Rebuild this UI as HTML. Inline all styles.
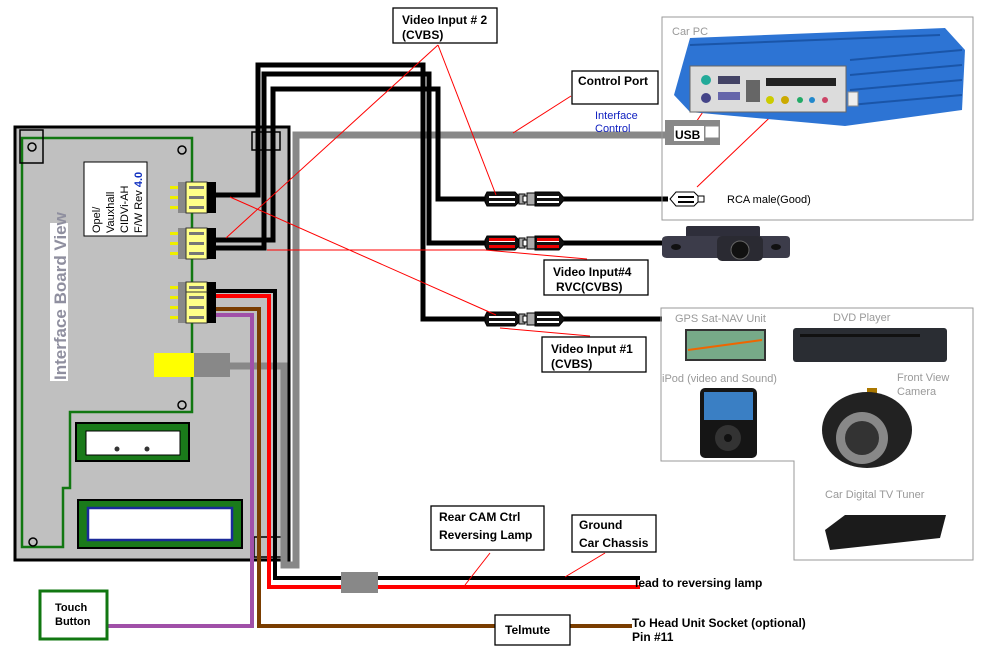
<!DOCTYPE html>
<html><head><meta charset="utf-8"><style>
html,body{margin:0;padding:0;background:#fff;}
svg{display:block;font-family:"Liberation Sans",sans-serif;}
.b{font-weight:bold;font-size:12px;fill:#000;}
.g{font-size:11px;fill:#999;}
</style></head><body>
<svg width="992" height="648" viewBox="0 0 992 648" xmlns="http://www.w3.org/2000/svg">
<defs>
<g id="rcaf">
 <path d="M-16,-7 L12,-7 L16,-3 L16,3 L12,7 L-16,7 L-18,3 L-18,-3 Z" fill="#111" stroke="#000"/>
 <rect x="-14" y="-3" width="26" height="2" fill="#fff"/>
 <rect x="-14" y="2" width="26" height="2" fill="#fff"/>
 <rect x="16" y="-5" width="6" height="10" fill="#aaa" stroke="#000"/>
</g>
<g id="rcam">
 <rect x="-4" y="-3" width="4" height="6" fill="#fff" stroke="#000"/>
 <rect x="0" y="-6" width="8" height="12" fill="#aaa" stroke="#000"/>
 <path d="M8,-7 L32,-7 L38,0 L32,7 L8,7 Z" fill="#111" stroke="#000"/>
 <rect x="10" y="-3" width="22" height="2" fill="#fff"/>
 <rect x="10" y="2" width="22" height="2" fill="#fff"/>
</g>
<g id="conn">
 <rect x="170" y="0" width="8" height="3" fill="#ee0"/>
 <rect x="170" y="10" width="8" height="3" fill="#ee0"/>
 <rect x="170" y="20" width="8" height="3" fill="#ee0"/>
 <rect x="178" y="-4" width="8" height="31" fill="#888"/>
 <rect x="186" y="-4" width="21" height="31" fill="#ff8" stroke="#333"/>
 <rect x="189" y="0" width="15" height="3" fill="#777"/>
 <rect x="189" y="10" width="15" height="3" fill="#777"/>
 <rect x="189" y="20" width="15" height="3" fill="#777"/>
 <rect x="207" y="-4" width="9" height="31" fill="#000"/>
</g>
</defs>

<!-- board -->
<rect x="15" y="127" width="274" height="433" fill="#c0c0c0" stroke="#000" stroke-width="3"/>
<path d="M22,138 H192 V412 H70 V488 H63 V547 H22 Z" fill="none" stroke="#117711" stroke-width="2.5"/>
<rect x="20" y="130" width="23" height="33" fill="none" stroke="#000" stroke-width="1.5"/>
<circle cx="32" cy="147" r="4" fill="none" stroke="#000" stroke-width="1.5"/>
<circle cx="182" cy="150" r="4" fill="none" stroke="#000" stroke-width="1.5"/>
<circle cx="182" cy="405" r="4" fill="none" stroke="#000" stroke-width="1.5"/>
<circle cx="33" cy="542" r="4" fill="none" stroke="#000" stroke-width="1.5"/>
<rect x="252" y="132" width="28" height="18" fill="none" stroke="#000" stroke-width="1.5"/>
<rect x="254" y="537" width="30" height="20" fill="none" stroke="#000" stroke-width="1.5"/>
<rect x="84" y="162" width="63" height="74" fill="#fff" stroke="#000" stroke-width="1"/>
<text transform="translate(100,233) rotate(-90)" font-size="11">Opel/</text>
<text transform="translate(114,233) rotate(-90)" font-size="11">Vauxhall</text>
<text transform="translate(128,233) rotate(-90)" font-size="11">CIDVi-AH</text>
<text transform="translate(142,233) rotate(-90)" font-size="11">F/W Rev <tspan fill="#1030c0" font-weight="bold">4.0</tspan></text>
<rect x="50" y="223" width="18" height="158" fill="#fff"/>
<text transform="translate(66,380) rotate(-90)" font-size="17" font-weight="bold" fill="#8f8f9f">Interface Board View</text>
<rect x="76" y="423" width="113" height="38" fill="#1a7a1a" stroke="#000" stroke-width="2"/>
<rect x="86" y="431" width="94" height="24" fill="#fff" stroke="#000"/>
<rect x="78" y="500" width="164" height="48" fill="#1a7a1a" stroke="#000" stroke-width="2"/>
<rect x="88" y="508" width="144" height="32" fill="#fff" stroke="#1a2a99" stroke-width="2.5"/>
<g fill="#333">
<circle cx="117" cy="449" r="2.5"/><circle cx="147" cy="449" r="2.5"/>
</g>

<use href="#conn" y="186"/>
<use href="#conn" y="232"/>
<use href="#conn" y="286"/>
<use href="#conn" y="296"/>

<!-- yellow plug -->
<rect x="154" y="353" width="40" height="24" fill="#ff0"/>
<rect x="194" y="353" width="36" height="24" fill="#888"/>

<!-- grey cable -->
<path d="M665,135 H296 V565 H284 V366 H230" fill="none" stroke="#888" stroke-width="7"/>

<!-- black video wires -->
<g fill="none" stroke="#000" stroke-width="5">
<path d="M216,195 H258 V65 H423 V319 H485"/>
<path d="M216,248 H264 V74 H429 V243 H485"/>
<path d="M216,240 H273 V89 H438 V199 H485"/>
<path d="M563,199 H668"/>
<path d="M563,243 H665"/>
<path d="M563,319 H662"/>
</g>
<use href="#rcaf" x="503" y="199"/><use href="#rcam" x="527" y="199"/>
<use href="#rcaf" x="503" y="243"/><use href="#rcam" x="527" y="243"/>
<g fill="#e00"><rect x="489" y="238" width="26" height="3"/><rect x="489" y="245" width="26" height="3"/><rect x="537" y="238" width="22" height="3"/><rect x="537" y="245" width="22" height="3"/></g>
<use href="#rcaf" x="503" y="319"/><use href="#rcam" x="527" y="319"/>

<!-- colored wires -->
<g fill="none" stroke-width="4">
<path d="M216,291 H275 V578 H640" stroke="#000"/>
<path d="M216,296 H269 V587 H640" stroke="#f00"/>
<path d="M216,309 H259 V626 H632" stroke="#7a3d00"/>
<path d="M216,315 H252 V626 H108" stroke="#a050a8"/>
</g>
<rect x="341" y="572" width="37" height="21" fill="#888"/>

<!-- boxes -->
<g fill="#fff" stroke="#000" stroke-width="1.3">
<rect x="393" y="8" width="104" height="35"/>
<rect x="572" y="71" width="86" height="33"/>
<rect x="544" y="260" width="104" height="35"/>
<rect x="542" y="337" width="104" height="35"/>
<rect x="431" y="506" width="113" height="44"/>
<rect x="572" y="515" width="84" height="37"/>
<rect x="495" y="615" width="75" height="30"/>
</g>
<rect x="40" y="591" width="67" height="48" fill="#fff" stroke="#117711" stroke-width="3"/>
<g class="b">
<text x="402" y="24">Video Input # 2</text><text x="402" y="39">(CVBS)</text>
<text x="578" y="85">Control Port</text>
<text x="553" y="276">Video Input#4</text><text x="556" y="291">RVC(CVBS)</text>
<text x="551" y="353">Video Input #1</text><text x="551" y="368">(CVBS)</text>
<text x="439" y="521">Rear CAM Ctrl</text><text x="439" y="539">Reversing Lamp</text>
<text x="579" y="529">Ground</text><text x="579" y="547">Car Chassis</text>
<text x="505" y="634">Telmute</text>
<text x="55" y="611" font-size="11">Touch</text><text x="55" y="625" font-size="11">Button</text>
<text x="635" y="587">lead to reversing lamp</text>
<text x="632" y="627">To Head Unit Socket (optional)</text>
<text x="632" y="641">Pin #11</text>
</g>

<!-- red leaders -->
<g stroke="#f00" stroke-width="1" fill="none">
<path d="M438,45 L496,195"/><path d="M438,45 L226,238"/>
<path d="M267,250 H485 L587,259"/>
<path d="M230,197 L496,315"/><path d="M500,328 L590,336"/>
<path d="M513,133 L571,96"/>
<path d="M692,128 L726,78"/><path d="M697,187 L785,103"/>
<path d="M490,553 L465,585"/><path d="M605,553 L565,577"/>
</g>

<!-- Car PC -->
<rect x="662" y="17" width="311" height="203" fill="none" stroke="#999" stroke-width="1"/>
<text x="672" y="35" class="g" font-size="11">Car PC</text>
<path d="M690,38 L945,28 L965,50 L962,110 L845,126 L690,112 L674,95 Z" fill="#2d74d4"/>
<g stroke="#1a55a8" stroke-width="2"><path d="M690,45 L940,35"/><path d="M850,60 L962,50"/><path d="M850,75 L962,65"/><path d="M850,90 L962,80"/><path d="M850,105 L962,95"/></g>
<rect x="690" y="66" width="156" height="46" fill="#dcdcdc" stroke="#666"/>
<circle cx="706" cy="80" r="5" fill="#2a9"/><circle cx="706" cy="98" r="5" fill="#448"/>
<rect x="718" y="76" width="22" height="8" fill="#446"/><rect x="718" y="92" width="22" height="8" fill="#66a"/>
<rect x="746" y="80" width="14" height="22" fill="#666"/>
<rect x="766" y="78" width="70" height="8" fill="#222"/>
<circle cx="770" cy="100" r="4" fill="#cc0"/><circle cx="785" cy="100" r="4" fill="#ca0"/><circle cx="800" cy="100" r="3" fill="#2a6"/><circle cx="812" cy="100" r="3" fill="#28c"/><circle cx="825" cy="100" r="3" fill="#c46"/>
<rect x="848" y="92" width="10" height="14" fill="#eee" stroke="#888"/>
<text x="595" y="119" font-size="11" fill="#1020c0">Interface</text>
<text x="595" y="132" font-size="11" fill="#1020c0">Control</text>
<rect x="665" y="120" width="55" height="25" fill="#888"/>
<rect x="674" y="126" width="30" height="15" fill="#fff"/>
<rect x="705" y="126" width="14" height="12" fill="#fff" stroke="#888"/>
<text x="675" y="139" font-size="12" font-weight="bold">USB</text>
<g transform="translate(668,199)"><path d="M2,0 L8,-7 L26,-7 L30,-3 L30,3 L26,7 L8,7 Z" fill="#fff" stroke="#000"/><rect x="10" y="-3" width="16" height="2" fill="#000"/><rect x="10" y="2" width="16" height="2" fill="#000"/><rect x="30" y="-3" width="6" height="6" fill="#fff" stroke="#000"/></g>
<text x="727" y="203" font-size="11">RCA male(Good)</text>

<!-- rear camera -->
<rect x="686" y="226" width="74" height="12" rx="2" fill="#2e2e3a"/>
<path d="M662,240 Q662,236 668,236 H786 Q790,236 790,240 V254 Q790,258 786,258 H668 Q662,258 662,254 Z" fill="#3c3c4a"/>
<rect x="717" y="236" width="46" height="25" rx="5" fill="#2a2a32"/>
<circle cx="740" cy="250" r="9" fill="#111" stroke="#666"/>
<ellipse cx="676" cy="247" rx="5" ry="3" fill="#111"/>
<ellipse cx="776" cy="247" rx="5" ry="3" fill="#111"/>

<!-- devices box -->
<path d="M661,308 H973 V560 H794 V461 H661 Z" fill="none" stroke="#999" stroke-width="1"/>
<text x="675" y="322" class="g">GPS Sat-NAV Unit</text>
<text x="833" y="321" class="g">DVD Player</text>
<text x="662" y="382" class="g">iPod (video and Sound)</text>
<text x="897" y="381" class="g" font-size="10">Front View</text>
<text x="897" y="395" class="g" font-size="10">Camera</text>
<text x="825" y="498" class="g">Car Digital TV Tuner</text>
<rect x="686" y="330" width="79" height="30" fill="#7a8" stroke="#333" stroke-width="2"/>
<path d="M688,350 L762,340" stroke="#e60" stroke-width="2"/>
<rect x="793" y="328" width="154" height="34" rx="3" fill="#2a2d33"/>
<rect x="800" y="334" width="120" height="3" fill="#111"/>
<rect x="700" y="388" width="57" height="70" rx="5" fill="#151515"/>
<rect x="704" y="392" width="49" height="28" fill="#3a7fc4"/>
<circle cx="728" cy="438" r="13" fill="#333"/><circle cx="728" cy="438" r="4" fill="#111"/>
<rect x="867" y="388" width="10" height="14" fill="#a70"/>
<ellipse cx="867" cy="430" rx="45" ry="38" fill="#222"/>
<circle cx="862" cy="438" r="26" fill="#888"/><circle cx="862" cy="438" r="17" fill="#333"/>
<path d="M825,530 L845,515 H946 L940,538 L830,550 Z" fill="#1b1b1b"/>
</svg>
</body></html>
